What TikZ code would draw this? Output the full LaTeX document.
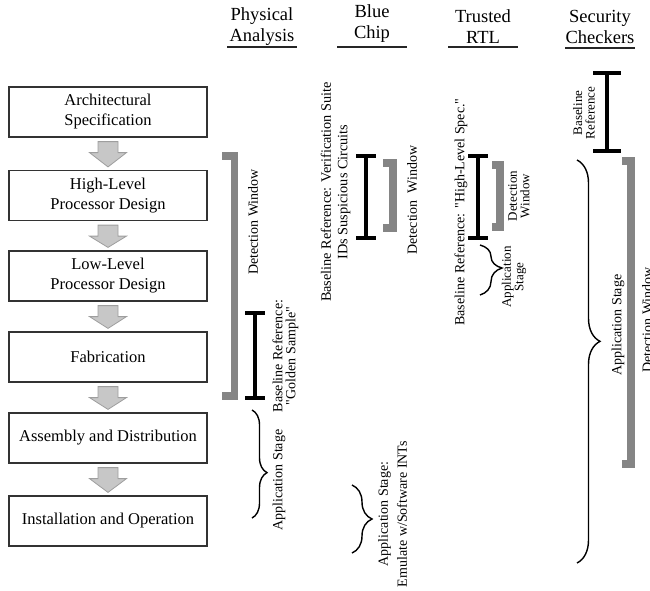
\documentclass[tikz,border=0pt]{standalone}
\usepackage{fontspec}
\setmainfont{Liberation Serif}
\newfontfamily\rawserif{Liberation Serif}
\newcommand{\sq}{{\rawserif"}}
\usetikzlibrary{calc,decorations.pathreplacing}
\begin{document}
\begin{tikzpicture}[x=1pt,y=-1pt,
  stage/.style={draw=black!80, line width=1.2pt, minimum width=198pt, minimum height=50pt,
    align=center, inner sep=0pt, font=\fontsize{16.5}{20}\selectfont},
  flowarrow/.style={fill=black!22, draw=black!38, line width=0.8pt, line join=miter},
  header/.style={align=center, inner sep=0pt, font=\fontsize{18.5}{21}\selectfont},
  hrule/.style={line width=2.6pt, draw=black!85},
  vlabel/.style={rotate=90, align=center, inner sep=0pt, font=\fontsize{14}{16}\selectfont},
  vlabelsm/.style={rotate=90, align=center, inner sep=0pt, font=\fontsize{13}{12.5}\selectfont},
  window/.style={draw=black!48, line width=7.5pt, line join=miter},
  baseref/.style={draw=black, line width=3.5pt},
  stagebrace/.style n args={2}{draw=black, line width=1.4pt, decorate,
    decoration={brace, amplitude=#1, aspect=#2}},
]
\useasboundingbox (0,0) rectangle (650,590);

% ---- process stages ----
\node[stage] (s1) at (108,112) {Architectural\\Specification};
\node[stage] (s2) at (108,195.5) {High-Level\\Processor Design};
\node[stage] (s3) at (108,276) {Low-Level\\Processor Design};
\node[stage] (s4) at (108,357) {Fabrication};
\node[stage] (s5) at (108,438) {Assembly and Distribution};
\node[stage] (s6) at (108,521) {Installation and Operation};

\foreach \a/\b in {s1/s2,s2/s3,s3/s4,s4/s5,s5/s6}{
  \path (\a.south) coordinate (t) (\b.north) coordinate (h);
  \draw[flowarrow] ($(t)+(-10,4)$) -- ($(t)+(10,4)$) -- ($(t)+(10,15)$)
    -- ($(t)+(18.5,15)$) -- ($(h)+(0,-3)$) -- ($(t)+(-18.5,15)$)
    -- ($(t)+(-10,15)$) -- cycle;
}

% ---- column headers ----
\node[header] (h1) at (262,26.5) {Physical\\Analysis};
\node[header] (h2) at (372,24) {Blue\\Chip};
\node[header] (h3) at (483,26.5) {Trusted\\RTL};
\node[header] (h4) at (600,27) {Security\\Checkers};
\draw[hrule] (227,47) -- (297,47);
\draw[hrule] (337,47) -- (407,47);
\draw[hrule] (448,47) -- (518,47);
\draw[hrule] (565,48) -- (635,48);

% ---- Physical Analysis ----
\draw[window] (222,156) -- (234.5,156) -- (234.5,396) -- (222,396);
\node[vlabel] (pdw) at (253,222) {Detection Window};
\draw[baseref] (255,313) -- (255,398) (245,313) -- (265,313) (245,398) -- (265,398);
\node[vlabel, font=\fontsize{14}{13}\selectfont] (pbr) at (285.5,356) {Baseline Reference:\\\sq Golden Sample\sq};
\draw[stagebrace={15}{0.58}] (252,410) -- (252,518);
\node[vlabel] (pas) at (279,480) {Application Stage};

% ---- Blue Chip ----
\draw[baseref] (366,156) -- (366,238) (356,156) -- (376,156) (356,238) -- (376,238);
\draw[window] (383,163) -- (393,163) -- (393,228) -- (383,228);
\node[vlabel, font=\fontsize{14.3}{16.5}\selectfont] (bbr) at (335.5,192)
  {Baseline Reference: Verification Suite\\IDs Suspicious Circuits};
\node[vlabel] (bdw) at (412,200) {Detection\ \ Window};
\draw[stagebrace={20}{0.5}] (352,485) -- (352,553);
\node[vlabel, font=\fontsize{14}{19}\selectfont] (bas) at (392.5,514)
  {Application Stage:\\Emulate w/Software INTs};

% ---- Trusted RTL ----
\draw[baseref] (478,156) -- (478,238) (468,156) -- (488,156) (468,238) -- (488,238);
\draw[window] (492,165) -- (500,165) -- (500,227) -- (492,227);
\node[vlabel] (tbr) at (461,212) {Baseline Reference: \sq High-Level Spec.\sq};
\node[vlabelsm] (tdw) at (519,196) {Detection\\Window};
\draw[stagebrace={22}{0.46}] (480,245) -- (480,295);
\node[vlabelsm] (tas) at (514,277) {Application\\Stage};

% ---- Security Checkers ----
\draw[baseref] (607,73) -- (607,151) (593,73) -- (621,73) (593,151) -- (621,151);
\node[vlabelsm] (sbr) at (584,113) {Baseline\\Reference};
\draw[window] (622,161) -- (631,161) -- (631,464) -- (622,464);
\node[vlabel] (sdw) at (647,320) {Detection Window};
\draw[stagebrace={23}{0.45}] (577,160) -- (577,563);
\node[vlabel] (sas) at (618,325) {Application Stage};
\end{tikzpicture}
\end{document}
